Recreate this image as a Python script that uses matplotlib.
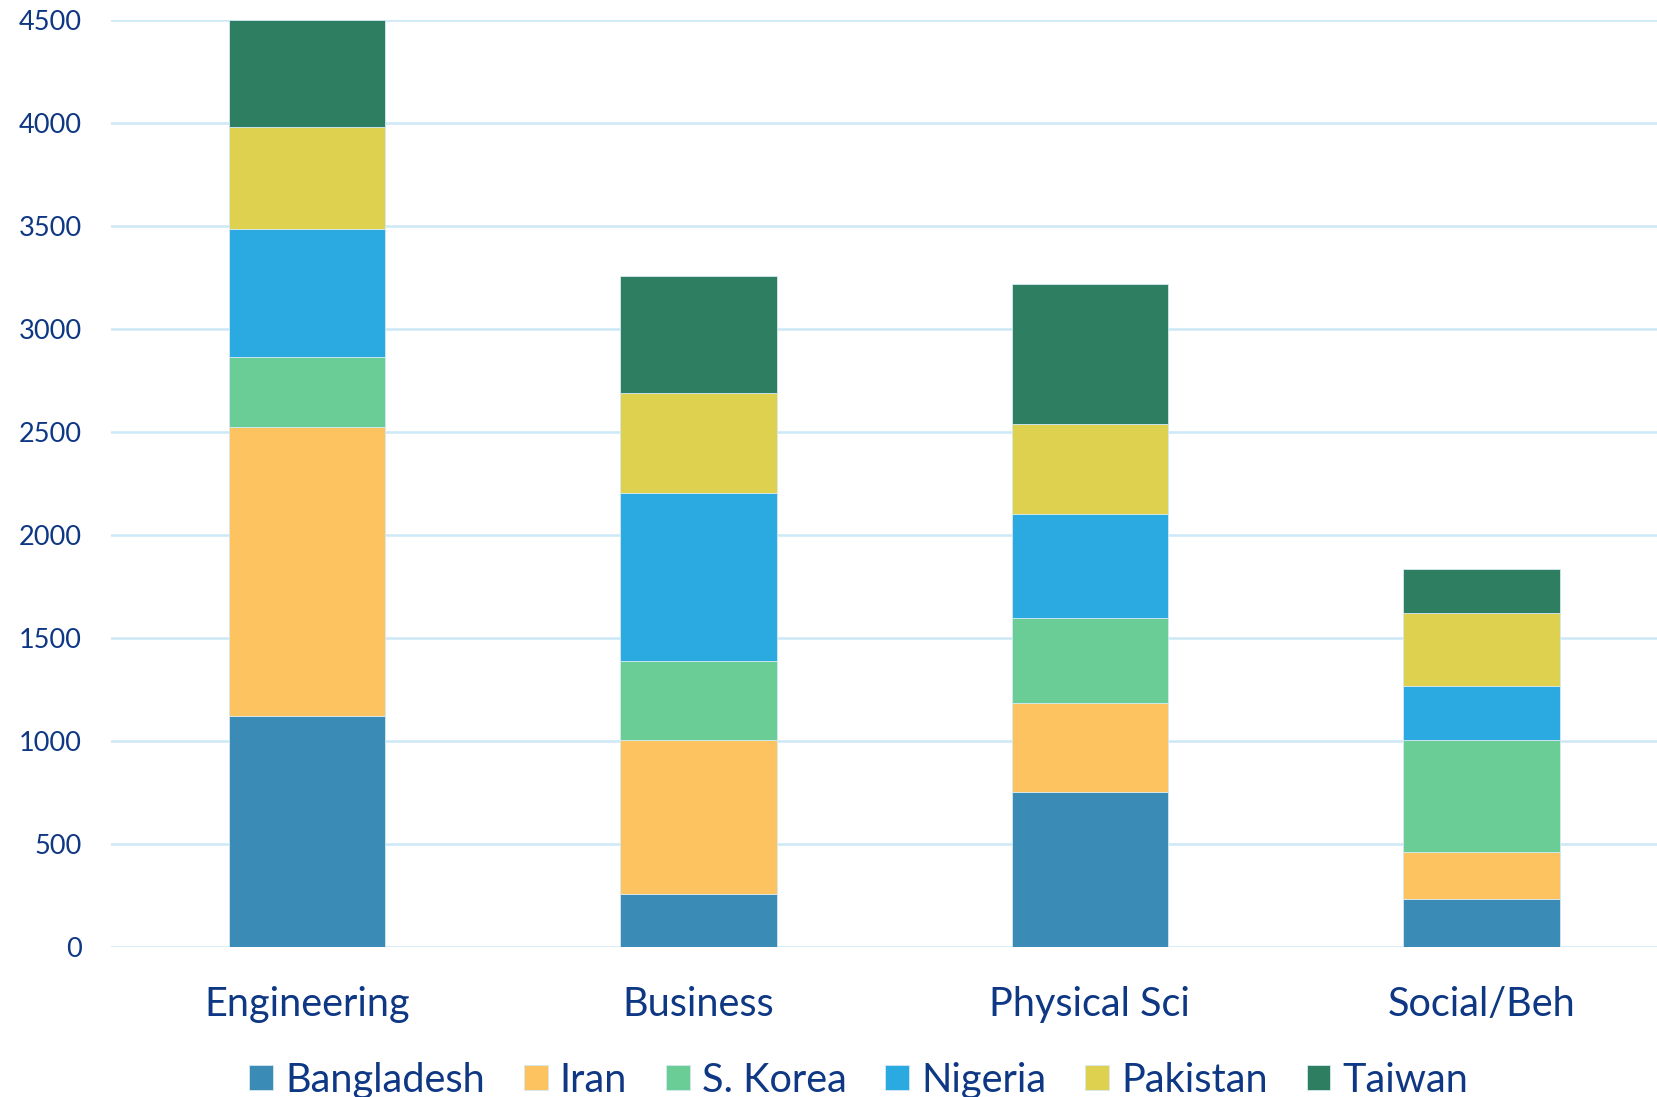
import matplotlib.pyplot as plt
import numpy as np

# fields and country series
fields = ["Engineering", "Business", "Physical Sci", "Social/Beh"]
countries = ["Bangladesh", "Iran", "S. Korea", "Nigeria", "Pakistan", "Taiwan"]
bangladesh = [1123, 256, 754, 231]
iran = [1401, 749, 431, 231]
s_korea = [339, 385, 410, 544]
nigeria = [624, 816, 508, 262]
pakistan = [492, 482, 437, 353]
taiwan = [521, 570, 677, 215]
colors = ["#3A8BB5", "#FDC360", "#69CD95", "#2BAAE2", "#DED150", "#2E7F62"]

series = [bangladesh, iran, s_korea, nigeria, pakistan, taiwan]
text_color = "#0E3784"
grid_color = "#CDE8F6"

plt.rcParams['font.family'] = ['Lato', 'DejaVu Sans']

fig = plt.figure(figsize=(16.58, 10.97), dpi=100)
ax = fig.add_axes([0.067, 0.1367, 0.9446, 0.8451])

x = np.arange(len(fields))
bottom = np.zeros(len(fields))
for name, vals, c in zip(countries, series, colors):
    ax.bar(x, vals, width=0.4, bottom=bottom, color=c, label=name,
           edgecolor="#D5E9F2", linewidth=0.6, zorder=3)
    bottom += np.array(vals)

ax.set_xlim(-0.5, len(fields) - 0.5)
ax.set_ylim(0, 4500)
ax.set_yticks(np.arange(0, 4501, 500))
ax.yaxis.grid(True, color=grid_color, linewidth=1.8, zorder=0)
ax.set_axisbelow(True)
for s in ax.spines.values():
    s.set_visible(False)
ax.tick_params(axis='both', length=0, colors=text_color)
ax.tick_params(axis='y', labelsize=19.5, pad=21)
ax.tick_params(axis='x', labelsize=28.5, pad=28)
ax.set_xticks(x)
ax.set_xticklabels(fields)

fig.legend(loc='lower center', bbox_to_anchor=(0.518, -0.034), ncol=6,
           frameon=False, fontsize=28.6, labelcolor=text_color,
           handlelength=0.6, handleheight=0.6, handletextpad=0.3,
           columnspacing=0.98)

fig.savefig("out.png", dpi=100)
